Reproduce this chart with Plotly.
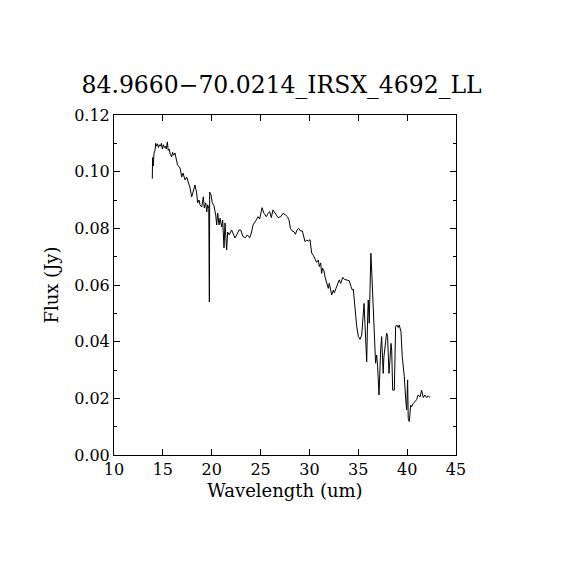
import plotly.graph_objects as go

# Espectro IRS LL
wavelength = [
    13.92, 13.95, 14.02, 14.10, 14.20, 14.27, 14.35, 14.45, 14.55, 14.65,
    14.75, 14.85, 14.95, 15.05, 15.15, 15.25, 15.35, 15.46, 15.55, 15.65,
    15.75, 15.90, 16.00, 16.10, 16.24, 16.50, 16.76, 16.93, 17.06, 17.27,
    17.44, 17.60, 17.78, 17.95, 18.12, 18.29, 18.46, 18.56, 18.70, 18.80,
    18.98, 19.14, 19.24, 19.39, 19.49, 19.59, 19.70, 19.76, 19.79, 19.93,
    20.06, 20.23, 20.41, 20.51, 20.61, 20.75, 20.85, 21.02, 21.12, 21.26,
    21.36, 21.53, 21.63, 21.79, 22.04, 22.20, 22.38, 22.56, 22.79, 22.97,
    23.20, 23.44, 23.64, 23.89, 24.05, 24.23, 24.40, 24.57, 24.74, 24.91,
    25.15, 25.35, 25.59, 25.76, 25.94, 26.10, 26.27, 26.44, 26.61, 26.79,
    27.06, 27.30, 27.53, 27.74, 27.91, 28.05, 28.22, 28.42, 28.56, 28.73,
    28.90, 29.07, 29.27, 29.40, 29.55, 29.72, 29.89, 30.06, 30.23, 30.39,
    30.56, 30.74, 30.91, 31.01, 31.15, 31.25, 31.35, 31.49, 31.59, 31.77,
    31.93, 32.03, 32.18, 32.28, 32.45, 32.55, 32.72, 32.96, 33.05, 33.20,
    33.41, 33.57, 33.82, 34.08, 34.26, 34.39, 34.49, 34.60, 34.74, 34.84,
    35.01, 35.18, 35.35, 35.45, 35.59, 35.69, 35.79, 35.86, 35.96, 36.02,
    36.12, 36.23, 36.29, 36.37, 36.53, 36.64, 36.70, 36.77, 36.88, 36.98,
    37.12, 37.22, 37.29, 37.39, 37.49, 37.55, 37.62, 37.80, 37.90, 38.00,
    38.14, 38.24, 38.35, 38.42, 38.52, 38.69, 38.82, 38.93, 39.09, 39.19,
    39.37, 39.50, 39.71, 39.86, 39.95, 40.05, 40.11, 40.22, 40.36, 40.46,
    40.62, 40.80, 40.97, 41.13, 41.32, 41.48, 41.65, 41.82, 41.99, 42.16,
    42.34,
]

flux = [
    0.0975, 0.1050, 0.1020, 0.1066, 0.1075, 0.1100, 0.1090, 0.1098, 0.1085, 0.1095,
    0.1090, 0.1100, 0.1080, 0.1095, 0.1085, 0.1090, 0.1080, 0.1105, 0.1075, 0.1080,
    0.1062, 0.1052, 0.1068, 0.1058, 0.1066, 0.1024, 0.1013, 0.0981, 0.0995, 0.0971,
    0.0981, 0.0964, 0.0943, 0.0911, 0.0928, 0.0953, 0.0925, 0.0890, 0.0900, 0.0883,
    0.0875, 0.0911, 0.0872, 0.0890, 0.0858, 0.0883, 0.0870, 0.0540, 0.0928, 0.0918,
    0.0890, 0.0880, 0.0847, 0.0812, 0.0854, 0.0812, 0.0836, 0.0805, 0.0829, 0.0731,
    0.0819, 0.0724, 0.0787, 0.0777, 0.0794, 0.0783, 0.0766, 0.0777, 0.0794, 0.0794,
    0.0771, 0.0767, 0.0777, 0.0767, 0.0783, 0.0812, 0.0824, 0.0830, 0.0841, 0.0833,
    0.0873, 0.0853, 0.0841, 0.0853, 0.0859, 0.0838, 0.0865, 0.0857, 0.0848, 0.0838,
    0.0841, 0.0853, 0.0848, 0.0841, 0.0830, 0.0800, 0.0791, 0.0788, 0.0779, 0.0794,
    0.0800, 0.0791, 0.0791, 0.0775, 0.0753, 0.0759, 0.0755, 0.0760, 0.0713, 0.0705,
    0.0694, 0.0680, 0.0688, 0.0665, 0.0678, 0.0641, 0.0659, 0.0650, 0.0629, 0.0606,
    0.0588, 0.0606, 0.0582, 0.0565, 0.0582, 0.0572, 0.0588, 0.0606, 0.0618, 0.0606,
    0.0627, 0.0620, 0.0618, 0.0615, 0.0594, 0.0582, 0.0585, 0.0541, 0.0506, 0.0453,
    0.0418, 0.0408, 0.0424, 0.0488, 0.0535, 0.0459, 0.0382, 0.0329, 0.0488, 0.0547,
    0.0465, 0.0600, 0.0712, 0.0653, 0.0524, 0.0418, 0.0335, 0.0324, 0.0353, 0.0312,
    0.0212, 0.0365, 0.0371, 0.0418, 0.0312, 0.0288, 0.0345, 0.0394, 0.0430, 0.0418,
    0.0288, 0.0335, 0.0394, 0.0370, 0.0229, 0.0229, 0.0453, 0.0459, 0.0450, 0.0459,
    0.0435, 0.0347, 0.0276, 0.0194, 0.0159, 0.0265, 0.0129, 0.0118, 0.0176, 0.0170,
    0.0182, 0.0188, 0.0196, 0.0212, 0.0205, 0.0229, 0.0203, 0.0212, 0.0203, 0.0208,
    0.0203,
]

x_ticks = [10, 15, 20, 25, 30, 35, 40, 45]
y_ticks = [0.00, 0.02, 0.04, 0.06, 0.08, 0.10, 0.12]

font_serif = 'DejaVu Serif, Liberation Serif, serif'

fig = go.Figure()

fig.add_trace(go.Scatter(
    x=wavelength,
    y=flux,
    mode='lines',
    line=dict(color='black', width=1),
    showlegend=False
))

axis_common = dict(
    showline=True,
    linecolor='black',
    linewidth=1,
    mirror='ticks',
    ticks='inside',
    tickcolor='black',
    tickwidth=1,
    showgrid=False,
    zeroline=False,
    tickfont=dict(family=font_serif, size=16, color='black'),
)

# la pagina tiene ~8 px de margen en body: se compensa en los margenes
fig.update_layout(
    width=570,
    height=570,
    margin=dict(l=106, r=122, t=107, b=123),
    paper_bgcolor='white',
    plot_bgcolor='white',
    title=dict(
        text='84.9660\u221270.0214_IRSX_4692_LL',
        xref='paper',
        x=0.49,
        xanchor='center',
        y=0.865,
        yanchor='middle',
        font=dict(family=font_serif, size=23.5, color='black')
    ),
    xaxis=dict(
        axis_common,
        range=[10, 45],
        tickvals=x_ticks,
        ticktext=[str(v) for v in x_ticks],
        ticklen=6,
        title=dict(text='Wavelength (um)', standoff=6,
                   font=dict(family=font_serif, size=18, color='black')),
    ),
    yaxis=dict(
        axis_common,
        range=[0, 0.12],
        tickvals=y_ticks,
        ticktext=['%.2f' % v for v in y_ticks],
        ticklen=6,
        minor=dict(dtick=0.01, tick0=0, ticks='inside', ticklen=3,
                   tickcolor='black', tickwidth=1),
        title=dict(text='Flux (Jy)', standoff=10,
                   font=dict(family=font_serif, size=18, color='black')),
    ),
)

fig.write_html("out.html")
